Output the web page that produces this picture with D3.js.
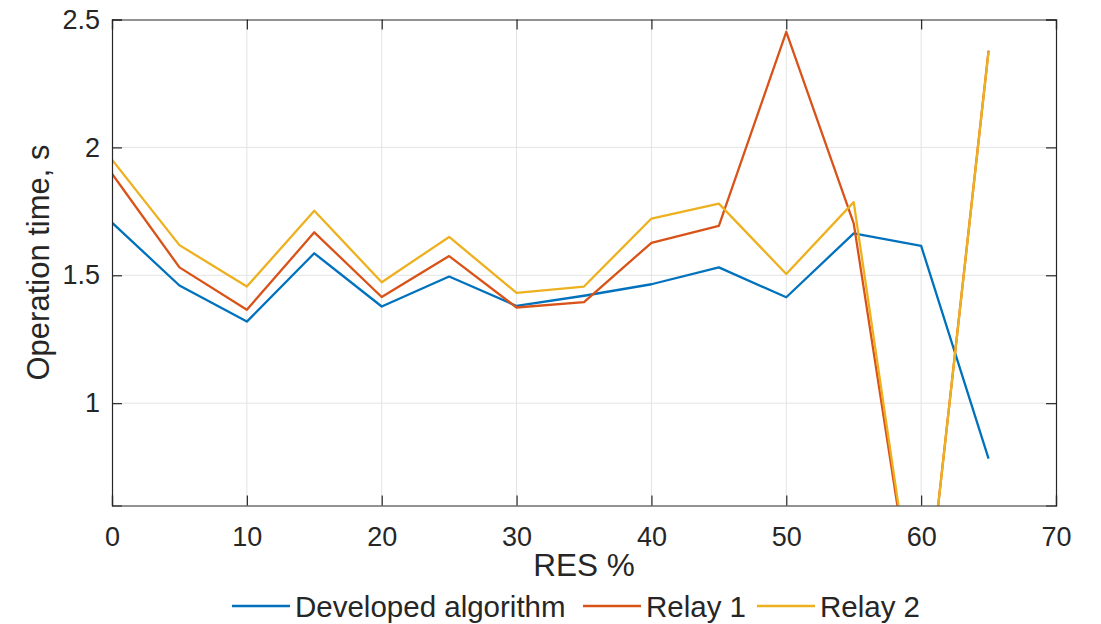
<!DOCTYPE html>
<html>
<head>
<meta charset="utf-8">
<script src="https://cdn.jsdelivr.net/npm/d3@7"></script>
<style>
  body { margin: 0; background: #fff; }
  text { font-family: "Liberation Sans", Arial, sans-serif; fill: #262626; }
</style>
</head>
<body>
<svg width="1101" height="624"></svg>
<script>
const res = [0, 5, 10, 15, 20, 25, 30, 35, 40, 45, 50, 55, 60, 65];
const developed = [1.706, 1.460, 1.319, 1.586, 1.378, 1.495, 1.380, 1.420, 1.465, 1.531, 1.414, 1.664, 1.615, 0.783];
const relay1 = [1.897, 1.531, 1.365, 1.668, 1.415, 1.575, 1.374, 1.395, 1.627, 1.693, 2.452, 1.703, 0, 2.378];
const relay2 = [1.952, 1.618, 1.456, 1.752, 1.473, 1.650, 1.431, 1.456, 1.722, 1.780, 1.505, 1.786, 0, 2.375];
const xTicks = [0, 10, 20, 30, 40, 50, 60, 70];
const yTicks = [1, 1.5, 2, 2.5];
const seriesNames = ["Developed algorithm", "Relay 1", "Relay 2"];
const colors = ["#0072BD", "#D95319", "#EDB120"];

const plotLeft = 112, plotRight = 1056, plotTop = 19.5, plotBottom = 505.5;
const w = plotRight - plotLeft, h = plotBottom - plotTop;

const svg = d3.select("svg");
const g = svg.append("g").attr("transform", `translate(${plotLeft}, ${plotTop})`);

const x = d3.scaleLinear().domain([0, 70]).range([0, w]);
const y = d3.scaleLinear().domain([0.6, 2.5]).range([h, 0]);

// grid
g.selectAll(".gx").data(xTicks.slice(1, -1)).enter().append("line")
  .attr("x1", d => x(d)).attr("x2", d => x(d))
  .attr("y1", 0).attr("y2", h)
  .attr("stroke", "#e3e3e3").attr("stroke-width", 1);
g.selectAll(".gy").data(yTicks.slice(0, -1)).enter().append("line")
  .attr("x1", 0).attr("x2", w)
  .attr("y1", d => y(d)).attr("y2", d => y(d))
  .attr("stroke", "#e3e3e3").attr("stroke-width", 1);

// lines
svg.append("clipPath").attr("id", "clip")
  .append("rect").attr("width", w).attr("height", h);

const series = [developed, relay1, relay2];
const line = d3.line().x((d, i) => x(res[i])).y(d => y(d));
series.forEach((s, k) => {
  g.append("path")
    .datum(s)
    .attr("clip-path", "url(#clip)")
    .attr("fill", "none")
    .attr("stroke", colors[k])
    .attr("stroke-width", 2.3)
    .attr("stroke-linejoin", "round")
    .attr("d", line);
});

// axes (box with inward ticks)
const xAxis = d3.axisBottom(x).tickValues(xTicks).tickSize(-10).tickPadding(21);
g.append("g").attr("transform", `translate(0, ${h})`).call(xAxis);
const xTop = d3.axisTop(x).tickValues(xTicks).tickSize(-10).tickFormat("");
g.append("g").call(xTop);
const yAxis = d3.axisLeft(y).tickValues(yTicks).tickSize(-10).tickPadding(12).tickFormat(d3.format("~g"));
g.append("g").call(yAxis);
const yRight = d3.axisRight(y).tickValues(yTicks).tickSize(-10).tickFormat("");
g.append("g").attr("transform", `translate(${w}, 0)`).call(yRight);

g.selectAll(".domain").attr("stroke", "#262626").attr("stroke-width", 1.2);
g.selectAll(".tick line").attr("stroke", "#262626").attr("stroke-width", 1.2);
g.selectAll(".tick text").attr("font-size", "27px").attr("fill", "#262626")
  .attr("font-family", "Liberation Sans, Arial, sans-serif");

// labels
svg.append("text")
  .attr("x", plotLeft + w / 2).attr("y", 576)
  .attr("text-anchor", "middle").attr("font-size", "31.5px")
  .text("RES %");
svg.append("text")
  .attr("transform", `translate(49, ${plotTop + h / 2}) rotate(-90)`)
  .attr("text-anchor", "middle").attr("font-size", "31px")
  .text("Operation time, s");

// legend
const legendX = [232, 583, 757];
seriesNames.forEach((n, k) => {
  svg.append("line")
    .attr("x1", legendX[k]).attr("x2", legendX[k] + 58)
    .attr("y1", 606).attr("y2", 606)
    .attr("stroke", colors[k]).attr("stroke-width", 2.3);
  svg.append("text")
    .attr("x", legendX[k] + 63).attr("y", 617)
    .attr("font-size", "29.5px")
    .text(n);
});
</script>
</body>
</html>
